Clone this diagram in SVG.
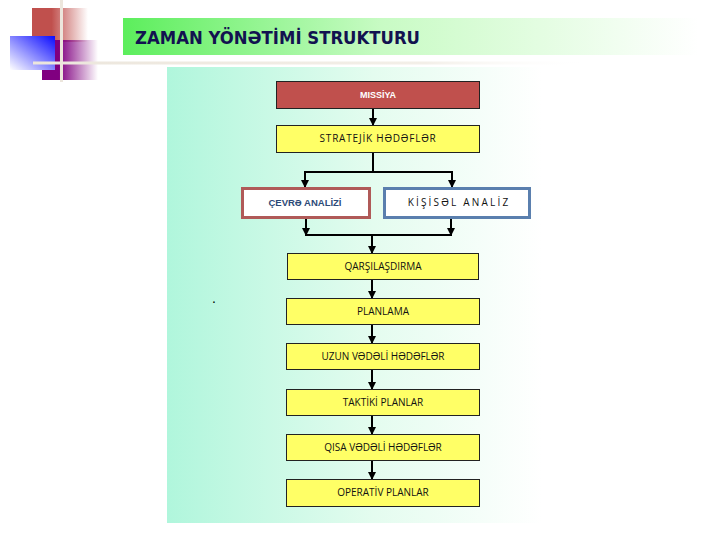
<svg xmlns="http://www.w3.org/2000/svg" width="720" height="540" viewBox="0 0 720 540">
<defs>
<linearGradient id="gTitle" x1="0" y1="0" x2="1" y2="0">
<stop offset="0" stop-color="#5cee5c"/>
<stop offset="0.45" stop-color="#c8fbc4"/>
<stop offset="1" stop-color="#ffffff"/>
</linearGradient>
<linearGradient id="gPanel" x1="0" y1="0" x2="1" y2="0">
<stop offset="0" stop-color="#b0f6dc"/>
<stop offset="0.55" stop-color="#e4fcef"/>
<stop offset="1" stop-color="#ffffff"/>
</linearGradient>
<linearGradient id="gRed" x1="0" y1="0" x2="1" y2="0">
<stop offset="0" stop-color="#c0504d"/>
<stop offset="0.35" stop-color="#c0504d"/>
<stop offset="1" stop-color="#c0504d" stop-opacity="0"/>
</linearGradient>
<linearGradient id="gPurple" x1="0" y1="0" x2="1" y2="0">
<stop offset="0" stop-color="#800080"/>
<stop offset="0.3" stop-color="#800080"/>
<stop offset="1" stop-color="#800080" stop-opacity="0"/>
</linearGradient>
<linearGradient id="gBlue" x1="1" y1="0" x2="0" y2="1">
<stop offset="0" stop-color="#0a0aff"/>
<stop offset="1" stop-color="#ffffff"/>
</linearGradient>
<linearGradient id="gLine" x1="0" y1="0" x2="1" y2="0">
<stop offset="0" stop-color="#ece6dc"/>
<stop offset="0.7" stop-color="#f3efe8"/>
<stop offset="1" stop-color="#ffffff" stop-opacity="0"/>
</linearGradient>
<marker id="arr" viewBox="0 0 8 8" refX="7" refY="4" markerWidth="8" markerHeight="8" markerUnits="userSpaceOnUse" orient="auto">
<path d="M0,0 L8,4 L0,8 z" fill="#000"/>
</marker>
</defs>
<style>
.box{stroke:#222;stroke-width:1;}
.yel{fill:#ffff66;}
.t{font-family:"Open Sans","Liberation Sans",sans-serif;font-size:10px;fill:#111;text-anchor:middle;}
.c{stroke:#000;stroke-width:2;fill:none;}
</style>
<rect width="720" height="540" fill="#ffffff"/>
<g id="decor">
<rect x="32" y="8" width="56" height="34" fill="url(#gRed)"/>
<rect x="42" y="40" width="56" height="40" fill="url(#gPurple)"/>
<rect x="10" y="36" width="45" height="34" fill="url(#gBlue)"/>
<rect x="60" y="0" width="3" height="82" fill="#ece6dc"/>
<rect x="33" y="61.5" width="560" height="3" fill="url(#gLine)"/>
</g>
<g id="title">
<rect x="123" y="18" width="575" height="37" fill="url(#gTitle)"/>
<text x="135" y="44" font-family="DejaVu Sans, Verdana, sans-serif" font-weight="bold" font-size="17" fill="#121250" textLength="285" lengthAdjust="spacingAndGlyphs">ZAMAN YÖNƏTİMİ STRUKTURU</text>
</g>
<rect id="panel" x="167" y="67" width="375" height="456" fill="url(#gPanel)"/>
<g id="connectors">
<line class="c" x1="373" y1="108" x2="373" y2="125" marker-end="url(#arr)"/>
<polyline class="c" points="373,153 373,172"/>
<line class="c" x1="305" y1="172" x2="452" y2="172"/>
<line class="c" x1="305" y1="171" x2="305" y2="187" marker-end="url(#arr)"/>
<line class="c" x1="452" y1="171" x2="452" y2="187" marker-end="url(#arr)"/>
<line class="c" x1="306" y1="218" x2="306" y2="235" marker-end="url(#arr)"/>
<line class="c" x1="451" y1="218" x2="451" y2="235" marker-end="url(#arr)"/>
<line class="c" x1="305" y1="235" x2="452" y2="235"/>
<line class="c" x1="372" y1="234" x2="372" y2="253" marker-end="url(#arr)"/>
<line class="c" x1="372" y1="280" x2="372" y2="298" marker-end="url(#arr)"/>
<line class="c" x1="372" y1="325" x2="372" y2="343" marker-end="url(#arr)"/>
<line class="c" x1="372" y1="370" x2="372" y2="389" marker-end="url(#arr)"/>
<line class="c" x1="372" y1="416" x2="372" y2="434" marker-end="url(#arr)"/>
<line class="c" x1="372" y1="461" x2="372" y2="479" marker-end="url(#arr)"/>
</g>
<g id="missiya">
<rect class="box" x="276.5" y="81.5" width="203" height="27" fill="#c0504d"/>
<text x="378" y="98" font-family="Liberation Sans, sans-serif" font-weight="bold" font-size="9" fill="#ffffff" text-anchor="middle">MISSİYA</text>
</g>
<g id="strateji">
<rect class="box yel" x="276.5" y="125.5" width="203" height="27"/>
<text class="t" x="378" y="142" letter-spacing="0.8">STRATEJİK HƏDƏFLƏR</text>
</g>
<g id="cevre">
<rect x="242.5" y="188.5" width="127" height="29" fill="#ffffff" stroke="#b05a58" stroke-width="3"/>
<text x="305" y="206" font-family="Liberation Sans, sans-serif" font-weight="bold" font-size="9.5" fill="#2c4a78" text-anchor="middle">ÇEVRƏ ANALİZİ</text>
</g>
<g id="kisisel">
<rect x="384.5" y="188.5" width="145" height="29" fill="#ffffff" stroke="#5a7fae" stroke-width="3"/>
<text class="t" x="459" y="206" letter-spacing="2.2">KİŞİSƏL ANALİZ</text>
</g>
<g id="qarsi">
<rect class="box yel" x="287.5" y="253.5" width="191" height="26"/>
<text class="t" x="383" y="270">QARŞILAŞDIRMA</text>
</g>
<g id="planlama">
<rect class="box yel" x="286.5" y="298.5" width="193" height="26"/>
<text class="t" x="383" y="315">PLANLAMA</text>
</g>
<g id="uzun">
<rect class="box yel" x="286.5" y="343.5" width="193" height="26"/>
<text class="t" x="383" y="360">UZUN VƏDƏLİ HƏDƏFLƏR</text>
</g>
<g id="taktiki">
<rect class="box yel" x="286.5" y="389.5" width="193" height="26"/>
<text class="t" x="383" y="406">TAKTİKİ PLANLAR</text>
</g>
<g id="qisa">
<rect class="box yel" x="286.5" y="434.5" width="193" height="26"/>
<text class="t" x="383" y="451">QISA VƏDƏLİ HƏDƏFLƏR</text>
</g>
<g id="operativ">
<rect class="box yel" x="286.5" y="479.5" width="193" height="27"/>
<text class="t" x="383" y="496">OPERATİV PLANLAR</text>
</g>
<text x="212" y="303" font-family="Liberation Sans, sans-serif" font-size="14" fill="#000">.</text>
</svg>
